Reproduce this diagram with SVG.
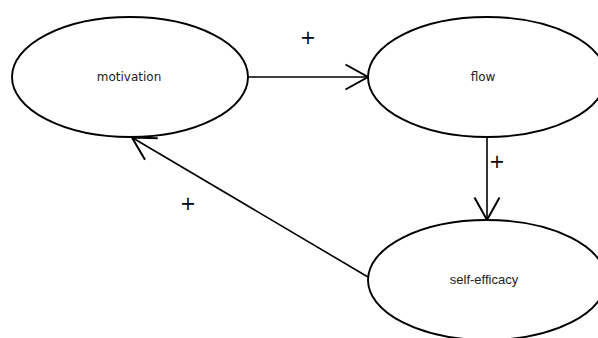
<svg xmlns="http://www.w3.org/2000/svg" width="598" height="338" viewBox="0 0 598 338">
<style>
.node{fill:#fff;stroke:#000;stroke-width:1.9}
.edge{fill:none;stroke:#000;stroke-width:1.6}
.lbl{font-family:"DejaVu Sans",sans-serif;font-size:12px;fill:#222}
.lbl2{font-family:"Liberation Sans",sans-serif;font-size:13px;fill:#222}
.plus{font-family:"DejaVu Sans",sans-serif;font-size:19px;fill:#000}
</style>
<defs>
<marker id="arr" markerUnits="userSpaceOnUse" markerWidth="30" markerHeight="30" viewBox="-22 -12 24 24" refX="0" refY="0" orient="auto">
<path d="M-18,-10 L0,0 L-18,10" fill="none" stroke="#000" stroke-width="1.6"/>
</marker>
</defs>
<rect width="598" height="338" fill="#fff"/>
<g id="connectors">
<line class="edge" x1="248" y1="77" x2="368" y2="77" marker-end="url(#arr)"/>
<line class="edge" x1="487" y1="137" x2="487" y2="220" marker-end="url(#arr)"/>
<line class="edge" x1="368" y1="277" x2="132" y2="137.5" marker-end="url(#arr)"/>
<text class="plus" x="308" y="44" text-anchor="middle">+</text>
<text class="plus" x="497" y="168" text-anchor="middle">+</text>
<text class="plus" x="188" y="210" text-anchor="middle">+</text>
</g>
<g id="motivation">
<ellipse class="node" cx="130" cy="77" rx="118" ry="60"/>
<text class="lbl" x="129" y="81" text-anchor="middle">motivation</text>
</g>
<g id="flow">
<ellipse class="node" cx="487" cy="77" rx="119" ry="60"/>
<text class="lbl" x="483" y="81" text-anchor="middle">flow</text>
</g>
<g id="self-efficacy">
<ellipse class="node" cx="487" cy="280" rx="119" ry="60"/>
<text class="lbl2" x="484" y="284" text-anchor="middle">self-efficacy</text>
</g>
</svg>
